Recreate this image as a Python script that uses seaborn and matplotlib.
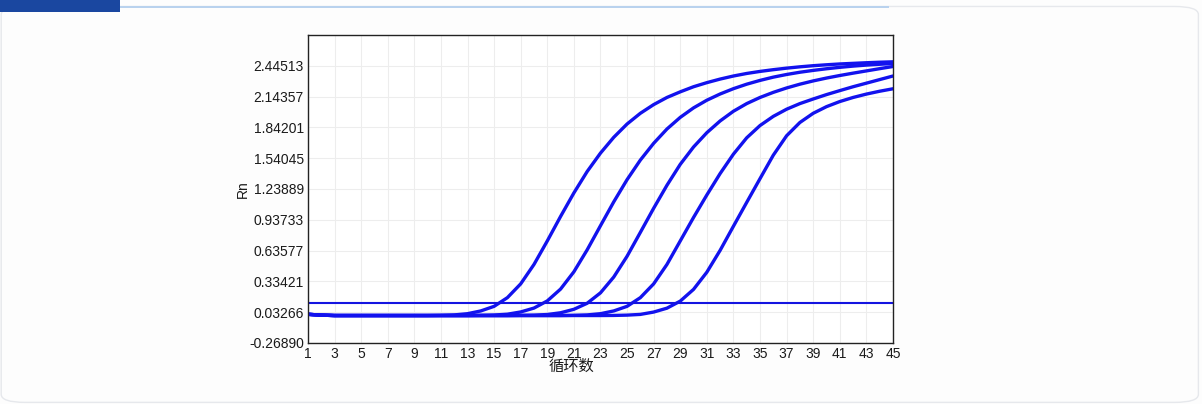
import numpy as np
import pandas as pd
import matplotlib
matplotlib.use("Agg")
import matplotlib.pyplot as plt
from matplotlib.patches import Rectangle, FancyBboxPatch
import seaborn as sns

# amplification curves (Rn per cycle)
cycles = list(range(1, 46))

curve_a = [0.012, 0.004, 0.0, 0.0, 0.0, 0.0, 0.0, 0.0, 0.0, 0.0,
           0.002, 0.006, 0.018, 0.045, 0.09, 0.175, 0.31, 0.5, 0.73, 0.97,
           1.2, 1.41, 1.59, 1.745, 1.875, 1.98, 2.065, 2.135, 2.19, 2.24,
           2.28, 2.315, 2.345, 2.37, 2.39, 2.407, 2.422, 2.435, 2.446, 2.455,
           2.463, 2.469, 2.475, 2.48, 2.484]
curve_b = [0.012, 0.004, 0.0, 0.0, 0.0, 0.0, 0.0, 0.0, 0.0, 0.0,
           0.0, 0.0, 0.0, 0.002, 0.005, 0.013, 0.035, 0.073, 0.143, 0.259,
           0.428, 0.643, 0.879, 1.113, 1.33, 1.522, 1.686, 1.826, 1.94, 2.033,
           2.108, 2.169, 2.221, 2.265, 2.302, 2.334, 2.36, 2.382, 2.4, 2.416,
           2.43, 2.442, 2.452, 2.46, 2.467]
curve_c = [0.012, 0.004, 0.0, 0.0, 0.0, 0.0, 0.0, 0.0, 0.0, 0.0,
           0.0, 0.0, 0.0, 0.0, 0.0, 0.0, 0.002, 0.004, 0.01, 0.027,
           0.061, 0.12, 0.222, 0.377, 0.58, 0.814, 1.05, 1.275, 1.48, 1.65,
           1.79, 1.905, 2.0, 2.075, 2.135, 2.185, 2.228, 2.265, 2.297, 2.325,
           2.35, 2.373, 2.395, 2.417, 2.438]
curve_d = [0.012, 0.004, 0.0, 0.0, 0.0, 0.0, 0.0, 0.0, 0.0, 0.0,
           0.0, 0.0, 0.0, 0.0, 0.0, 0.0, 0.0, 0.0, 0.0, 0.0,
           0.002, 0.006, 0.018, 0.045, 0.09, 0.175, 0.31, 0.5, 0.73, 0.96,
           1.18, 1.39, 1.58, 1.74, 1.86, 1.95, 2.02, 2.075, 2.12, 2.163,
           2.202, 2.24, 2.275, 2.31, 2.345]
curve_e = [0.012, 0.004, 0.0, 0.0, 0.0, 0.0, 0.0, 0.0, 0.0, 0.0,
           0.0, 0.0, 0.0, 0.0, 0.0, 0.0, 0.0, 0.0, 0.0, 0.0,
           0.0, 0.0, 0.0, 0.001, 0.004, 0.011, 0.034, 0.072, 0.141, 0.256,
           0.424, 0.638, 0.874, 1.108, 1.34, 1.57, 1.76, 1.89, 1.98, 2.045,
           2.095, 2.135, 2.168, 2.196, 2.22]
threshold = 0.122

y_ticks = [-0.26890, 0.03266, 0.33421, 0.63577, 0.93733, 1.23889,
           1.54045, 1.84201, 2.14357, 2.44513]
y_top = 2.74669
x_ticks = list(range(1, 46, 2))

samples = {"A": curve_a, "B": curve_b, "C": curve_c, "D": curve_d, "E": curve_e}
df = pd.concat(
    [pd.DataFrame({"cycle": cycles, "Rn": vals, "sample": name}) for name, vals in samples.items()],
    ignore_index=True,
)

sns.set_style("white")
plt.rcParams["font.family"] = ["Liberation Sans", "Noto Sans CJK SC", "DejaVu Sans"]

fig = plt.figure(figsize=(12.02, 4.04), dpi=100)
fig.patch.set_facecolor("#fdfdfd")

# page card and header decoration
fig.patches.append(FancyBboxPatch((0.001, 0.004), 0.996, 0.98, boxstyle="round,pad=0,rounding_size=0.02",
                                  transform=fig.transFigure, facecolor="#fdfdfd",
                                  edgecolor="#e6e8ec", linewidth=1.0, zorder=-3))
fig.patches.append(Rectangle((0.1, 0.979), 0.64, 0.006, transform=fig.transFigure,
                             facecolor="#b9d2ee", edgecolor="none", zorder=-2))
fig.patches.append(Rectangle((0.0, 0.970), 0.1, 0.030, transform=fig.transFigure,
                             facecolor="#1a47a0", edgecolor="none", zorder=-1))

ax = fig.add_axes([0.2562, 0.151, 0.4867, 0.7624])
ax.set_zorder(5)
ax.set_facecolor("white")

sns.lineplot(data=df, x="cycle", y="Rn", units="sample", estimator=None,
             color="#1212ee", linewidth=2.4, ax=ax, legend=False)
ax.axhline(threshold, color="#1414e0", linewidth=1.5)

ax.set_xlim(1, 45)
ax.set_ylim(y_ticks[0], y_top)
ax.set_xticks(x_ticks)
ax.set_xticklabels([str(v) for v in x_ticks])
ax.set_yticks(y_ticks)
ax.set_yticklabels([f"{v:.5f}" for v in y_ticks])
ax.grid(True, color="#ededed", linewidth=0.8)
ax.tick_params(axis="both", length=0, labelsize=10, pad=3, colors="#1a1a1a")

for s in ax.spines.values():
    s.set_visible(True)
    s.set_color("#222222")
    s.set_linewidth(1.0)

ax.set_xlabel("循环数", fontsize=11, color="#1a1a1a")
ax.xaxis.set_label_coords(0.451, -0.055)
ax.set_ylabel("Rn", fontsize=10, labelpad=-1, color="#1a1a1a")

fig.savefig("out.png", dpi=100, facecolor=fig.get_facecolor())
